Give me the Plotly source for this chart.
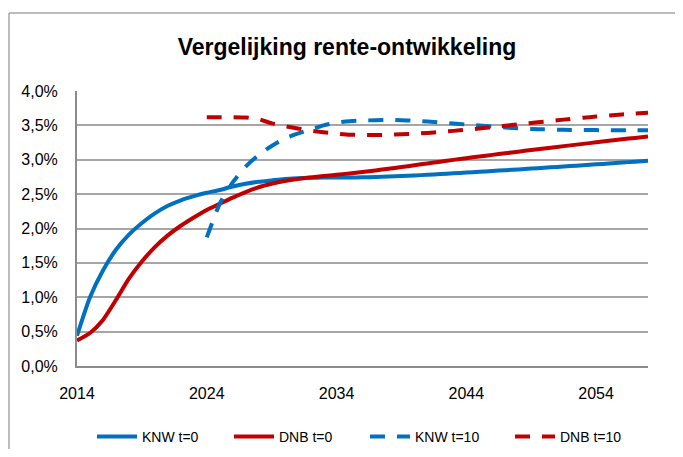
import plotly.graph_objects as go

years = list(range(2014, 2059))

knw_t0 = [0.44, 1.00, 1.39, 1.69, 1.91, 2.08, 2.22, 2.33, 2.41, 2.47,
          2.52, 2.56, 2.61, 2.65, 2.68, 2.70, 2.72, 2.73, 2.737, 2.741,
          2.742, 2.742, 2.744, 2.749, 2.756, 2.764, 2.772, 2.781, 2.791, 2.802,
          2.813, 2.824, 2.836, 2.848, 2.860, 2.872, 2.884, 2.896, 2.908, 2.920,
          2.933, 2.946, 2.959, 2.972, 2.985]

dnb_t0 = [0.37, 0.48, 0.67, 0.96, 1.27, 1.52, 1.73, 1.90, 2.04, 2.16,
          2.27, 2.36, 2.45, 2.53, 2.60, 2.65, 2.69, 2.72, 2.742, 2.762,
          2.781, 2.801, 2.822, 2.845, 2.869, 2.894, 2.920, 2.946, 2.972, 2.998,
          3.023, 3.047, 3.071, 3.095, 3.118, 3.141, 3.164, 3.187, 3.209, 3.231,
          3.253, 3.275, 3.297, 3.318, 3.340]

knw_t10 = [None] * 10 + [
          1.87, 2.36, 2.67, 2.90, 3.07, 3.20, 3.31, 3.38, 3.44, 3.50,
          3.54, 3.56, 3.57, 3.575, 3.578, 3.575, 3.568, 3.557, 3.543, 3.528,
          3.512, 3.497, 3.482, 3.469, 3.458, 3.449, 3.442, 3.437, 3.434, 3.432,
          3.431, 3.430, 3.430, 3.430, 3.430]

dnb_t10 = [None] * 10 + [
          3.62, 3.62, 3.62, 3.615, 3.59, 3.53, 3.49, 3.455, 3.425, 3.40,
          3.38, 3.365, 3.36, 3.36, 3.363, 3.37, 3.378, 3.39, 3.405, 3.42,
          3.437, 3.455, 3.474, 3.494, 3.514, 3.534, 3.554, 3.574, 3.593, 3.611,
          3.628, 3.644, 3.659, 3.672, 3.684]

x_ticks = [2014, 2024, 2034, 2044, 2054]
y_ticks = [0.0, 0.5, 1.0, 1.5, 2.0, 2.5, 3.0, 3.5, 4.0]
y_labels = ["0,0%", "0,5%", "1,0%", "1,5%", "2,0%", "2,5%", "3,0%", "3,5%", "4,0%"]

BLUE = "#0070C0"
RED = "#C00000"
FONT = "Liberation Sans, Arial, sans-serif"

series = [
    ("KNW t=0", knw_t0, BLUE, "solid"),
    ("DNB t=0", dnb_t0, RED, "solid"),
    ("KNW t=10", knw_t10, BLUE, "15px,12px"),
    ("DNB t=10", dnb_t10, RED, "15px,12px"),
]

# figure is drawn at an 8px page offset; plot area spans page x 77..648, y 91..366
W, H = 667, 441
L, T, PW, PH = 69, 83, 571, 275
legend_keys = ["legend", "legend2", "legend3", "legend4"]
legend_text_x = [134, 271, 407, 552]   # figure px where each legend text begins

fig = go.Figure()
for (name, vals, color, dash), lk in zip(series, legend_keys):
    fig.add_trace(go.Scatter(
        x=years, y=vals, name=name, mode="lines", legend=lk,
        line=dict(color=color, width=4, dash=dash, shape="spline", smoothing=0.6),
        connectgaps=False,
    ))

legend_y = (T + PH - 429) / PH
legends = {}
for lk, tx in zip(legend_keys, legend_text_x):
    legends[lk] = dict(x=(tx - 50 - L) / PW, xanchor="left",
                       y=legend_y, yanchor="middle",
                       font=dict(size=14, family=FONT),
                       itemwidth=40, bgcolor="rgba(0,0,0,0)")

fig.update_layout(
    width=W, height=H,
    margin=dict(l=L, r=W - L - PW, t=T, b=H - T - PH, autoexpand=False),
    paper_bgcolor="white", plot_bgcolor="white",
    font=dict(family=FONT, color="black"),
    title=dict(text="<b>Vergelijking rente-ontwikkeling</b>",
               x=339 / W, xref="container", xanchor="center",
               y=1 - 39 / H, yref="container", yanchor="middle",
               font=dict(size=23, family=FONT, color="black")),
    showlegend=True,
    shapes=[
        dict(type="line", xref="paper", yref="paper",
             x0=(1 - L) / PW, x1=(700 - L) / PW,
             y0=(T + PH - 5) / PH, y1=(T + PH - 5) / PH,
             line=dict(color="#a6a6a6", width=1.5)),
        dict(type="line", xref="paper", yref="paper",
             x0=(1 - L) / PW, x1=(1 - L) / PW,
             y0=(T + PH - 5) / PH, y1=(T + PH - 470) / PH,
             line=dict(color="#a6a6a6", width=1.5)),
    ],
    **legends,
)

fig.update_xaxes(
    range=[2014, 2058], tickvals=x_ticks, ticktext=[str(v) for v in x_ticks],
    showgrid=False, zeroline=False, automargin=False,
    showline=True, linecolor="#8c8c8c", linewidth=2,
    ticks="", ticklabelstandoff=12,
    tickfont=dict(size=16, family=FONT),
)
fig.update_yaxes(
    range=[0, 4.0], tickvals=y_ticks, ticktext=y_labels,
    showgrid=True, gridcolor="#a6a6a6", gridwidth=1.5,
    zeroline=False, automargin=False,
    showline=True, linecolor="#8c8c8c", linewidth=2,
    ticks="", ticklabelstandoff=14,
    tickfont=dict(size=16, family=FONT),
)

fig.write_html("out.html")
